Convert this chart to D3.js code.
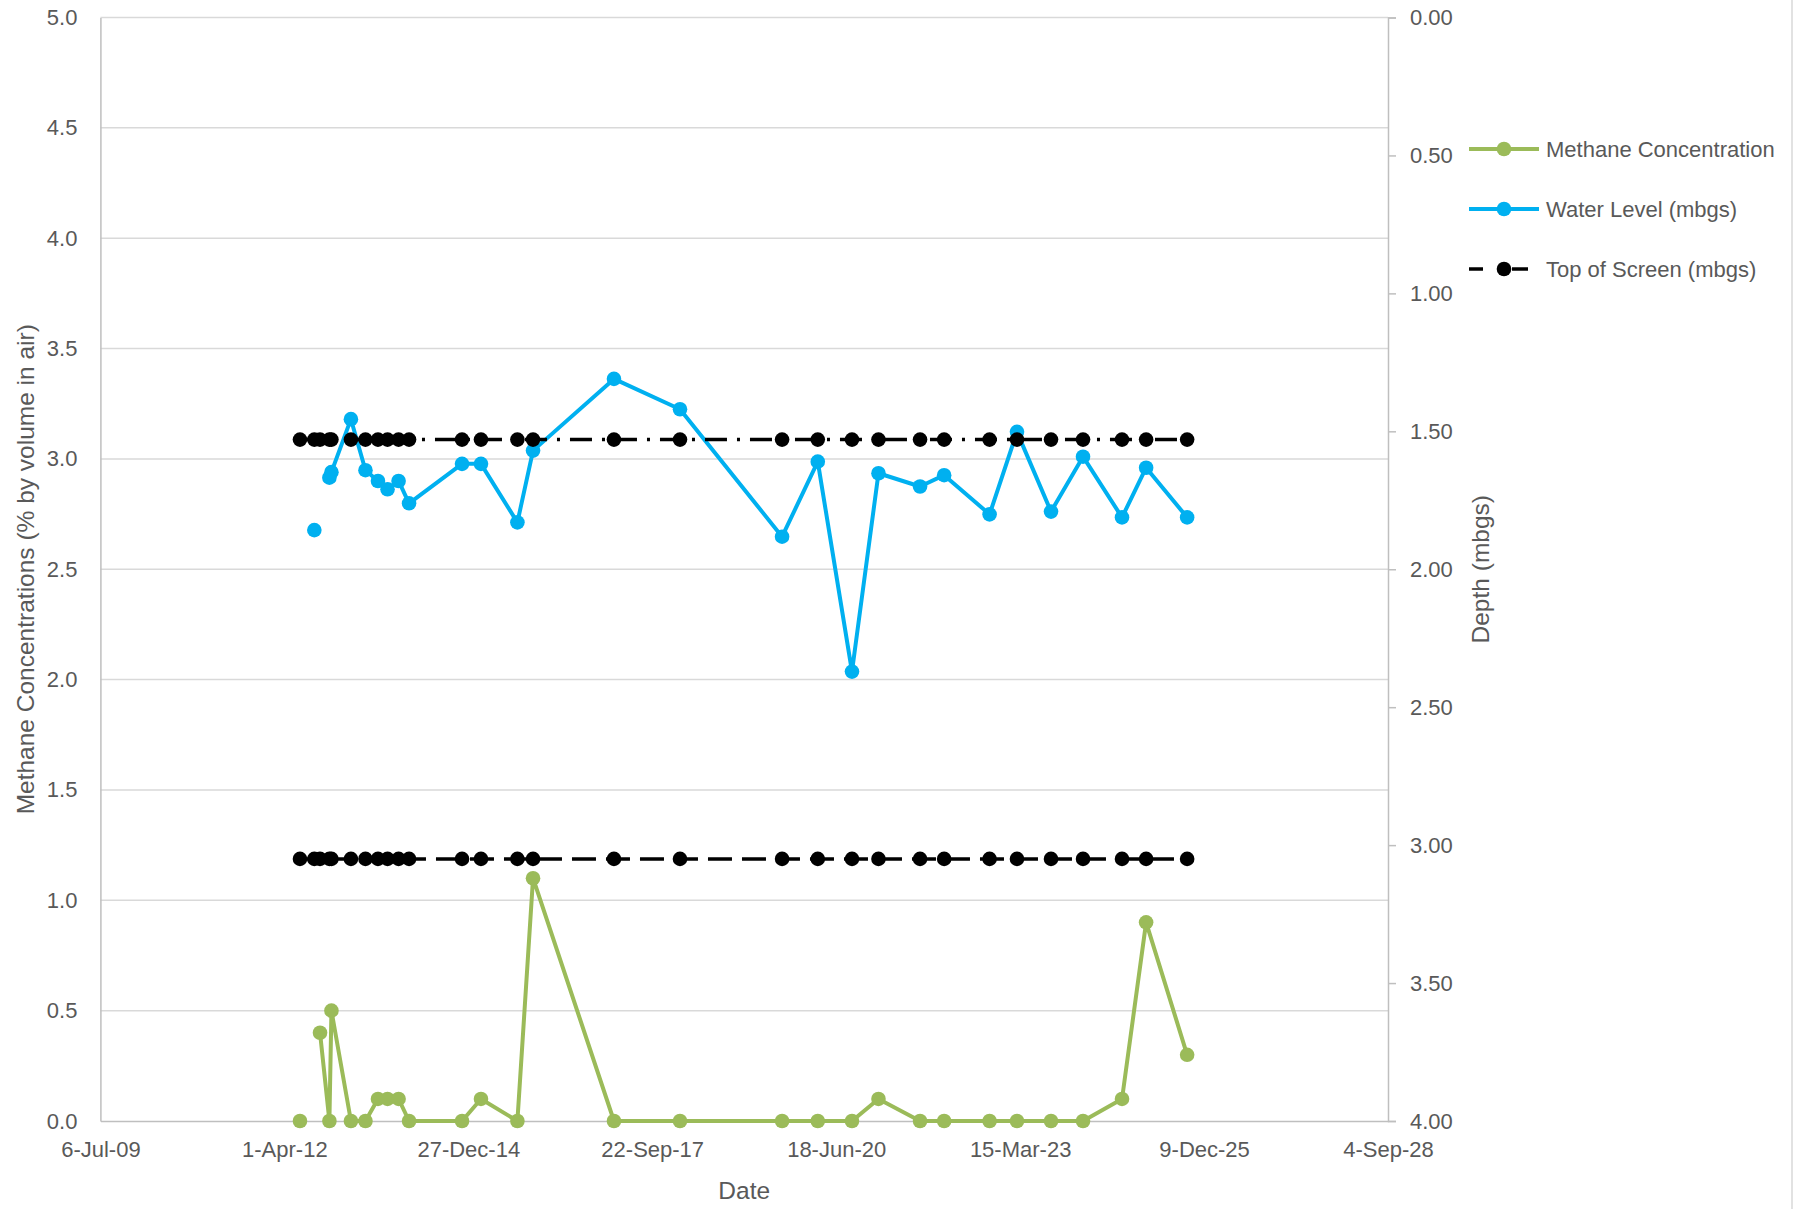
<!DOCTYPE html>
<html>
<head>
<meta charset="utf-8">
<script src="https://cdn.jsdelivr.net/npm/d3@7"></script>
<style>
  html, body { margin: 0; padding: 0; background: #fff; }
  svg { display: block; }
  text { font-family: "Liberation Sans", Arial, sans-serif; fill: #595959; }
</style>
</head>
<body>
<svg id="chart" width="1809" height="1209"></svg>
<script>
// ---------- DATA ----------
const sampleDates = [
  "2012-06-25","2012-09-11","2012-10-12","2012-12-02","2012-12-13",
  "2013-03-29","2013-06-16","2013-08-23","2013-10-14","2013-12-13",
  "2014-02-08","2014-11-23","2015-03-06","2015-09-20","2015-12-14",
  "2017-02-26","2018-02-20","2019-08-29","2020-03-10","2020-09-12",
  "2021-02-03","2021-09-17","2022-01-26","2022-09-30","2023-02-26",
  "2023-08-30","2024-02-20","2024-09-19","2025-01-28","2025-09-08"
];
const methaneConcentration = [
  0.0, null, 0.4, 0.0, 0.5,
  0.0, 0.0, 0.1, 0.1, 0.1,
  0.0, 0.0, 0.1, 0.0, 1.1,
  0.0, 0.0, 0.0, 0.0, 0.0,
  0.1, 0.0, 0.0, 0.0, 0.0,
  0.0, 0.0, 0.1, 0.9, 0.3
];
const waterLevel = [
  null, 1.858, null, 1.668, 1.648,
  1.456, 1.641, 1.680, 1.710, 1.680,
  1.761, 1.618, 1.618, 1.830, 1.570,
  1.310, 1.420, 1.882, 1.610, 2.371,
  1.652, 1.700, 1.659, 1.801, 1.502,
  1.791, 1.592, 1.812, 1.632, 1.812
];
const screenUpperDepth = 1.53;   // dash-dot series
const topOfScreenDepth = 3.05;   // long-dash series (legend: Top of Screen)
const xTickDates = ["2009-07-06","2012-04-01","2014-12-27","2017-09-22","2020-06-18","2023-03-15","2025-12-09","2028-09-04"];
const leftTicks = [0,0.5,1,1.5,2,2.5,3,3.5,4,4.5,5];
const rightTicks = [0,0.5,1,1.5,2,2.5,3,3.5,4];
const legendLabels = ["Methane Concentration","Water Level (mbgs)","Top of Screen (mbgs)"];
const seriesColors = ["#9BBB59","#00B0F0","#000000"];

// ---------- LAYOUT ----------
const parse = d3.utcParse("%Y-%m-%d");
const fmt = d3.utcFormat("%-d-%b-%y");
const L = 100.4, R = 1388, T = 17.5, B = 1121;

const svg = d3.select("#chart");
svg.append("rect").attr("width",1809).attr("height",1209).attr("fill","#fff");
svg.append("line").attr("x1",1792).attr("x2",1792).attr("y1",0).attr("y2",1209)
  .attr("stroke","#d9d9d9").attr("stroke-width",1.5);

const x = d3.scaleUtc().domain([parse(xTickDates[0]), parse(xTickDates[xTickDates.length-1])]).range([L,R]);
const yL = d3.scaleLinear().domain([0,5]).range([B,T]);
const yR = d3.scaleLinear().domain([0,4]).range([T,B]);

// gridlines
svg.append("g").selectAll("line").data(leftTicks.slice(1)).join("line")
  .attr("x1",L).attr("x2",R).attr("y1",d=>yL(d)).attr("y2",d=>yL(d))
  .attr("stroke","#d9d9d9").attr("stroke-width",1.5);

// left axis
const gL = svg.append("g").attr("transform",`translate(${L},0)`)
  .call(d3.axisLeft(yL).tickValues(leftTicks).tickFormat(d3.format(".1f")).tickSize(0).tickPadding(23));
gL.select(".domain").attr("stroke","#bfbfbf").attr("stroke-width",1.5);
gL.selectAll("text").style("font-size","22px").attr("fill","#595959");

// right axis
const gR = svg.append("g").attr("transform",`translate(${R},0)`)
  .call(d3.axisRight(yR).tickValues(rightTicks).tickFormat(d3.format(".2f")).tickSize(8).tickPadding(14));
gR.select(".domain").attr("stroke","#bfbfbf").attr("stroke-width",1.5);
gR.selectAll(".tick line").attr("stroke","#bfbfbf").attr("stroke-width",1.5);
gR.selectAll("text").style("font-size","22px").attr("fill","#595959");

// bottom axis
const gB = svg.append("g").attr("transform",`translate(0,${B})`)
  .call(d3.axisBottom(x).tickValues(xTickDates.map(parse)).tickFormat(fmt).tickSize(0).tickPadding(20));
gB.select(".domain").attr("stroke","#bfbfbf").attr("stroke-width",1.5);
gB.selectAll("text").style("font-size","22px").attr("fill","#595959");

// axis titles
svg.append("text").attr("transform",`translate(34,${(T+B)/2}) rotate(-90)`)
  .attr("text-anchor","middle").style("font-size","24.5px").text("Methane Concentrations (% by volume in air)");
svg.append("text").attr("transform",`translate(1489,${(T+B)/2}) rotate(-90)`)
  .attr("text-anchor","middle").style("font-size","24.5px").text("Depth (mbgs)");
svg.append("text").attr("x",(L+R)/2).attr("y",1199).attr("text-anchor","middle")
  .style("font-size","24.5px").text("Date");

// ---------- SERIES ----------
const rows = sampleDates.map((d,i)=>({date:parse(d), m:methaneConcentration[i], w:waterLevel[i]}));
const R_MARK = 7.3;

// methane
const lineM = d3.line().defined(d=>d.m!==null).x(d=>x(d.date)).y(d=>yL(d.m));
svg.append("path").attr("d",lineM(rows)).attr("fill","none").attr("stroke",seriesColors[0])
  .attr("stroke-width",4).attr("stroke-linejoin","round");
svg.append("g").selectAll("circle").data(rows.filter(d=>d.m!==null)).join("circle")
  .attr("cx",d=>x(d.date)).attr("cy",d=>yL(d.m)).attr("r",R_MARK).attr("fill",seriesColors[0]);

// water level
const lineW = d3.line().defined(d=>d.w!==null).x(d=>x(d.date)).y(d=>yR(d.w));
svg.append("path").attr("d",lineW(rows)).attr("fill","none").attr("stroke",seriesColors[1])
  .attr("stroke-width",4).attr("stroke-linejoin","round");
svg.append("g").selectAll("circle").data(rows.filter(d=>d.w!==null)).join("circle")
  .attr("cx",d=>x(d.date)).attr("cy",d=>yR(d.w)).attr("r",R_MARK).attr("fill",seriesColors[1]);

// screen lines
function screen(depth, dash){
  const ln = d3.line().x(d=>x(d.date)).y(()=>yR(depth));
  svg.append("path").attr("d",ln(rows)).attr("fill","none").attr("stroke","#000")
    .attr("stroke-width",3.5).attr("stroke-dasharray",dash);
  svg.append("g").selectAll("circle").data(rows).join("circle")
    .attr("cx",d=>x(d.date)).attr("cy",yR(depth)).attr("r",R_MARK).attr("fill","#000");
}
screen(screenUpperDepth, "22,10,3,10");
screen(topOfScreenDepth, "24,10");

// ---------- LEGEND ----------
const legY = [149,209,269];
const lg = svg.append("g");
legendLabels.forEach((lab,i)=>{
  const g = lg.append("g");
  if(i<2){
    g.append("line").attr("x1",1469).attr("x2",1539).attr("y1",legY[i]).attr("y2",legY[i])
      .attr("stroke",seriesColors[i]).attr("stroke-width",4);
  } else {
    g.append("line").attr("x1",1469).attr("x2",1483).attr("y1",legY[i]).attr("y2",legY[i])
      .attr("stroke","#000").attr("stroke-width",3.5);
    g.append("line").attr("x1",1512).attr("x2",1528).attr("y1",legY[i]).attr("y2",legY[i])
      .attr("stroke","#000").attr("stroke-width",3.5);
  }
  g.append("circle").attr("cx",1504).attr("cy",legY[i]).attr("r",R_MARK).attr("fill",seriesColors[i]);
  g.append("text").attr("x",1546).attr("y",legY[i]).attr("dy","0.35em")
    .style("font-size","22px").text(lab);
});
</script>
</body>
</html>
